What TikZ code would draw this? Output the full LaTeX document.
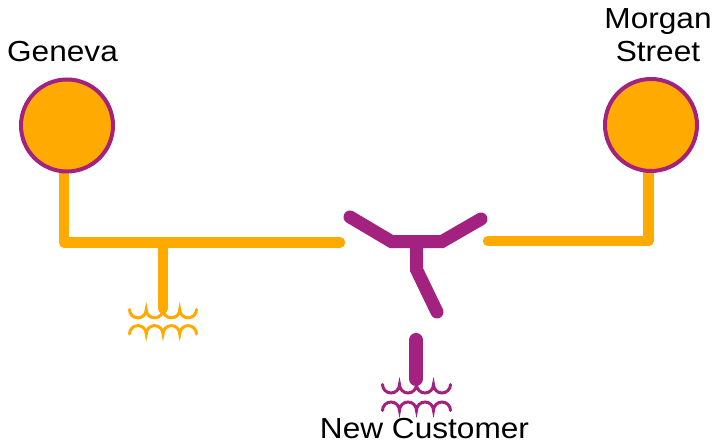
\documentclass[tikz,border=0pt]{standalone}
\usepackage{fontspec}
\setmainfont{Liberation Sans}[FakeStretch=1.09]
\usetikzlibrary{backgrounds}
\definecolor{feedorange}{HTML}{FFAA00}
\definecolor{custpurple}{HTML}{A3217F}
\begin{document}
\begin{tikzpicture}[x=1pt,y=1pt,
  feeder/.style={draw=feedorange, line width=10.5pt, line cap=round, line join=round},
  branch/.style={draw=custpurple, line width=13pt, line cap=round, line join=miter},
  station/.style={circle, fill=feedorange, draw=custpurple, line width=4pt, minimum size=92pt, inner sep=0pt},
  label/.style={font=\fontsize{29}{33}\selectfont, inner sep=0pt, align=center},
  coil/.style={line width=3pt, line cap=round}]
\useasboundingbox (0,0) rectangle (712,443);
% coordinates
\coordinate (gcorner) at (64,200.5);
\coordinate (gend) at (340,200.5);
\coordinate (gtap) at (163,200.5);
\coordinate (gtapend) at (163,134.5);
\coordinate (mstart) at (488,202);
\coordinate (mcorner) at (648.5,202);
\coordinate (yl) at (350,226);
\coordinate (ybl) at (391.7,201.3);
\coordinate (ybm) at (416.7,201.3);
\coordinate (ybr) at (441.7,201.3);
\coordinate (yr) at (481,224);
\coordinate (ybend) at (416.7,173);
\coordinate (yend) at (437,131);
\coordinate (ptop) at (416,103);
\coordinate (pbot) at (416,64);
% stations
\node[station] (geneva) at (67,317.5) {};
\node[station] (morgan) at (651,318) {};
% orange feeders
\begin{scope}[on background layer]
\draw[feeder] (gcorner |- geneva.south) -- (gcorner) -- (gend);
\draw[feeder] (gtap) -- (gtapend);
\draw[feeder] (mstart) -- (mcorner) -- (mcorner |- morgan.south);
\end{scope}
% orange transformer
\draw[coil, draw=feedorange] (129.5,133.5)
  arc[start angle=180,end angle=360,radius=8.375]
  arc[start angle=180,end angle=360,radius=8.375]
  arc[start angle=180,end angle=360,radius=8.375]
  arc[start angle=180,end angle=360,radius=8.375];
\draw[coil, draw=feedorange] (129.5,109)
  arc[start angle=180,end angle=0,radius=8.375]
  arc[start angle=180,end angle=0,radius=8.375]
  arc[start angle=180,end angle=0,radius=8.375]
  arc[start angle=180,end angle=0,radius=8.375];
% purple switch
\draw[branch] (yl) -- (ybl) -- (ybr) -- (yr);
\draw[branch] (ybm) -- (ybend) -- (yend);
\draw[branch, line width=14pt] (ptop) -- (pbot);
% purple transformer
\draw[coil, draw=custpurple] (382.5,58.5)
  arc[start angle=180,end angle=360,radius=8.5]
  arc[start angle=180,end angle=360,radius=8.5]
  arc[start angle=180,end angle=360,radius=8.5]
  arc[start angle=180,end angle=360,radius=8.5];
\draw[coil, draw=custpurple] (382.5,32.5)
  arc[start angle=180,end angle=0,radius=8.5]
  arc[start angle=180,end angle=0,radius=8.5]
  arc[start angle=180,end angle=0,radius=8.5]
  arc[start angle=180,end angle=0,radius=8.5];
% labels
\node[label, anchor=base] (genevalabel) at (62.5,381) {Geneva};
\node[label, anchor=south] (morganlabel) at (658,381.3) {Morgan\\Street};
\node[label, anchor=base] (customerlabel) at (424.5,4) {New Customer};
\end{tikzpicture}
\end{document}
